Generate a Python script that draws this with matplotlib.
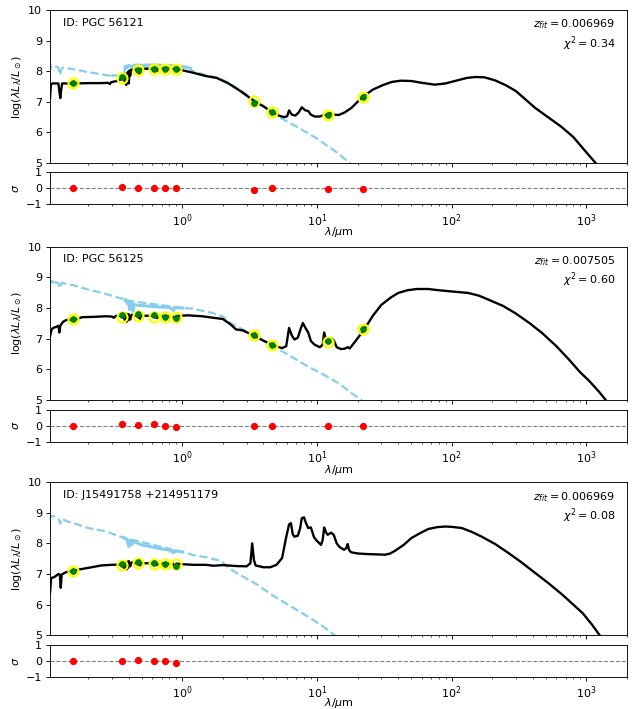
import numpy as np
import matplotlib
matplotlib.use('Agg')
import matplotlib.pyplot as plt

# photometric bands (micron): FUV, u, g, r, i, z, W1, W2, W3, W4
bands = [0.1545, 0.3551, 0.4686, 0.6166, 0.7480, 0.8932, 3.4, 4.6, 12.0, 22.0]

ids = ['ID: PGC 56121', 'ID: PGC 56125', 'ID: J15491758 +214951179']
zfit = ['0.006969', '0.007505', '0.006969']
chi2 = ['0.34', '0.60', '0.08']

# ---------- galaxy 1 ----------
obs1 = [7.60, 7.82, 8.05, 8.08, 8.08, 8.07, 6.95, 6.67, 6.58, 7.17]
err1 = [0.03, 0.06, 0.07, 0.05, 0.04, 0.05, 0.06, 0.03, 0.04, 0.03]
mod1 = [7.60, 7.77, 8.03, 8.08, 8.08, 8.07, 7.03, 6.67, 6.58, 7.17]
res1 = [0.0, 0.05, 0.0, 0.0, 0.0, 0.0, -0.12, 0.0, -0.03, -0.05]

sed1 = [(0.100, 7.10), (0.104, 7.10), (0.1055, 7.55), (0.108, 7.60), (0.120, 7.60),
        (0.122, 7.35), (0.124, 7.12), (0.126, 7.40), (0.128, 7.60), (0.16, 7.60),
        (0.20, 7.61), (0.25, 7.61), (0.28, 7.62), (0.29, 7.58), (0.295, 7.64),
        (0.31, 7.66), (0.33, 7.68), (0.345, 7.72), (0.36, 7.75), (0.37, 7.80),
        (0.375, 7.60), (0.378, 7.88), (0.383, 7.55), (0.386, 7.92), (0.39, 7.70),
        (0.395, 7.98), (0.40, 7.60), (0.405, 8.02), (0.41, 7.85), (0.415, 8.04),
        (0.45, 8.06), (0.486, 7.88), (0.49, 8.07), (0.55, 8.08), (0.60, 8.08),
        (0.656, 8.00), (0.66, 8.09), (0.80, 8.09), (0.90, 8.07), (1.0, 8.03),
        (1.2, 7.95), (1.5, 7.84), (1.8, 7.78), (2.2, 7.60), (2.7, 7.35),
        (3.4, 7.03), (4.0, 6.85), (4.6, 6.67), (5.2, 6.55), (5.7, 6.50),
        (6.0, 6.53), (6.2, 6.72), (6.5, 6.58), (6.9, 6.55), (7.3, 6.65),
        (7.7, 6.82), (8.2, 6.72), (8.6, 6.70), (9.0, 6.58), (9.6, 6.52),
        (10.5, 6.52), (11.3, 6.58), (12.0, 6.57), (12.7, 6.65), (13.3, 6.58),
        (14.5, 6.57), (16, 6.65), (18, 6.80), (20, 7.00), (22, 7.17),
        (26, 7.40), (31, 7.55), (36, 7.65), (42, 7.69), (50, 7.68), (60, 7.62),
        (75, 7.56), (90, 7.60), (110, 7.70), (130, 7.78), (150, 7.81),
        (175, 7.80), (210, 7.70), (250, 7.55), (300, 7.35), (417, 6.80),
        (500, 6.55), (650, 6.19), (800, 5.85), (1000, 5.35), (1200, 4.95),
        (1300, 4.80)]
star1 = [(0.100, 8.02), (0.104, 8.02), (0.106, 8.18), (0.110, 8.20), (0.115, 8.15),
         (0.120, 8.12), (0.122, 7.95), (0.124, 7.88), (0.126, 8.05), (0.13, 8.12),
         (0.16, 8.05), (0.20, 7.97), (0.25, 7.90), (0.29, 7.85), (0.295, 7.78),
         (0.30, 7.86), (0.33, 7.86), (0.36, 7.88), (0.37, 7.95), (0.38, 8.12),
         (1.1, 8.12), (1.2, 8.00), (1.5, 7.87), (1.8, 7.80), (2.2, 7.63),
         (2.7, 7.38), (3.4, 7.07), (4.0, 6.87), (4.6, 6.70), (5.5, 6.45),
         (7.0, 6.20), (10, 5.80), (14, 5.35), (17.5, 5.00), (19, 4.85)]
band1 = [(0.375, 8.10), (0.38, 8.17), (0.39, 8.12), (0.40, 8.19), (0.42, 8.15),
         (0.45, 8.20), (0.50, 8.19), (0.60, 8.20), (0.70, 8.19), (0.80, 8.18),
         (0.90, 8.17), (1.0, 8.15), (1.15, 8.10)]

# ---------- galaxy 2 ----------
obs2 = [7.63, 7.78, 7.80, 7.77, 7.70, 7.68, 7.12, 6.80, 6.92, 7.33]
err2 = [0.03, 0.06, 0.06, 0.05, 0.04, 0.06, 0.03, 0.03, 0.04, 0.03]
mod2 = [7.63, 7.72, 7.75, 7.70, 7.70, 7.71, 7.12, 6.80, 6.90, 7.33]
res2 = [0.0, 0.08, 0.03, 0.08, 0.0, -0.05, -0.02, 0.0, 0.0, 0.0]

sed2 = [(0.100, 7.05), (0.104, 7.07), (0.107, 7.30), (0.110, 7.35), (0.115, 7.38),
        (0.12, 7.42), (0.122, 7.20), (0.124, 7.42), (0.13, 7.55), (0.138, 7.61),
        (0.16, 7.62), (0.18, 7.70), (0.22, 7.71), (0.27, 7.73), (0.30, 7.72),
        (0.31, 7.68), (0.32, 7.74), (0.36, 7.76), (0.375, 7.60), (0.38, 7.82),
        (0.385, 7.55), (0.39, 7.80), (0.395, 7.60), (0.40, 7.79), (0.41, 7.62),
        (0.42, 7.78), (0.45, 7.76), (0.486, 7.65), (0.49, 7.75), (0.60, 7.74),
        (0.656, 7.67), (0.66, 7.75), (0.85, 7.72), (0.89, 7.62), (0.90, 7.74),
        (1.0, 7.75), (1.1, 7.76), (1.4, 7.73), (1.7, 7.68), (2.0, 7.64),
        (2.3, 7.45), (2.5, 7.30), (2.8, 7.27), (3.4, 7.10), (4.0, 6.93),
        (4.8, 6.77), (5.5, 6.69), (5.9, 6.75), (6.2, 7.35), (6.5, 7.10),
        (6.8, 6.97), (7.2, 7.03), (7.6, 7.35), (7.85, 7.51), (8.2, 7.35),
        (8.6, 7.20), (9.0, 6.92), (9.6, 6.80), (10.5, 6.72), (11.0, 6.80),
        (11.3, 7.20), (11.7, 6.90), (12.0, 6.90), (12.7, 7.02), (13.3, 6.95),
        (14, 6.72), (15, 6.66), (16, 6.67), (16.9, 6.72), (17.5, 6.68),
        (19, 6.88), (22.5, 7.31), (26, 7.75), (30, 8.10), (35, 8.33),
        (40, 8.49), (47, 8.58), (55, 8.62), (67, 8.62), (80, 8.58), (100, 8.54),
        (133, 8.49), (160, 8.40), (188, 8.27), (240, 8.07), (297, 7.83),
        (380, 7.50), (470, 7.18), (600, 6.75), (745, 6.31), (900, 5.90),
        (1050, 5.62), (1250, 5.25), (1390, 5.00), (1500, 4.85)]
star2 = [(0.100, 8.78), (0.104, 8.80), (0.106, 8.85), (0.108, 8.88), (0.112, 8.75),
         (0.115, 8.85), (0.12, 8.80), (0.124, 8.65), (0.127, 8.82), (0.14, 8.78),
         (0.156, 8.74), (0.20, 8.60), (0.25, 8.50), (0.30, 8.40), (0.36, 8.30),
         (0.375, 8.25), (1.0, 8.00), (1.2, 7.98), (1.5, 7.88), (1.7, 7.83),
         (2.0, 7.72), (2.3, 7.50), (2.8, 7.30), (3.4, 7.12), (4.8, 6.74),
         (6.5, 6.40), (8.5, 6.10), (12, 5.75), (15, 5.50), (18, 5.22),
         (21.3, 5.00), (23, 4.90)]
band2 = [(0.375, 8.25), (0.38, 8.28), (0.39, 8.15), (0.40, 8.22), (0.405, 7.95),
         (0.41, 8.20), (0.42, 8.15), (0.43, 7.90), (0.435, 8.12), (0.45, 8.10),
         (0.50, 8.08), (0.60, 8.05), (0.70, 8.03), (0.80, 8.02), (0.86, 7.92),
         (0.88, 8.01), (1.0, 8.00)]

# ---------- galaxy 3 ----------
obs3 = [7.10, 7.33, 7.38, 7.35, 7.33, 7.25]
err3 = [0.03, 0.06, 0.07, 0.06, 0.05, 0.07]
mod3 = [7.10, 7.30, 7.37, 7.33, 7.33, 7.33]
res3 = [0.0, 0.03, 0.05, 0.0, 0.0, -0.10]

sed3 = [(0.100, 6.35), (0.104, 6.37), (0.106, 6.86), (0.108, 6.88), (0.112, 6.90),
        (0.116, 6.95), (0.12, 7.00), (0.123, 6.98), (0.125, 6.55), (0.127, 6.98),
        (0.135, 7.05), (0.157, 7.12), (0.20, 7.20), (0.25, 7.28), (0.30, 7.30),
        (0.36, 7.31), (0.375, 7.15), (0.38, 7.38), (0.385, 7.15), (0.39, 7.40),
        (0.395, 7.20), (0.40, 7.42), (0.41, 7.25), (0.42, 7.38), (0.45, 7.36),
        (0.486, 7.28), (0.49, 7.35), (0.60, 7.35), (0.656, 7.30), (0.66, 7.35),
        (0.85, 7.34), (0.89, 7.20), (0.90, 7.34), (1.0, 7.32), (1.2, 7.30),
        (1.5, 7.30), (1.7, 7.27), (2.0, 7.29), (2.5, 7.26), (3.0, 7.25),
        (3.2, 7.35), (3.3, 8.00), (3.4, 7.45), (3.5, 7.28), (4.0, 7.22),
        (4.5, 7.22), (5.0, 7.30), (5.5, 7.52), (5.9, 8.20), (6.2, 8.62),
        (6.4, 8.66), (6.6, 8.30), (6.8, 8.22), (7.2, 8.25), (7.5, 8.50),
        (7.7, 8.82), (8.0, 8.85), (8.3, 8.65), (8.6, 8.50), (9.0, 8.52),
        (9.5, 8.20), (10.0, 8.08), (10.7, 7.95), (11.0, 8.10), (11.3, 8.52),
        (11.7, 8.35), (12.0, 8.28), (12.7, 8.35), (13.3, 8.28), (14.0, 8.00),
        (14.7, 7.88), (15.9, 7.79), (16.5, 7.85), (16.9, 7.98), (17.3, 7.78),
        (17.9, 7.71), (20, 7.67), (23.8, 7.65), (28, 7.64), (32, 7.63),
        (35, 7.67), (38, 7.76), (44, 7.95), (50, 8.17), (58, 8.33), (67, 8.47),
        (78, 8.53), (89, 8.55), (100, 8.54), (119, 8.50), (140, 8.38),
        (167, 8.22), (210, 7.98), (265, 7.68), (330, 7.38), (418, 7.03),
        (530, 6.68), (665, 6.32), (800, 6.00), (940, 5.72), (1100, 5.35),
        (1250, 5.01), (1350, 4.85)]
star3 = [(0.100, 8.82), (0.104, 8.84), (0.106, 8.88), (0.109, 8.90), (0.115, 8.85),
         (0.12, 8.80), (0.124, 8.65), (0.127, 8.80), (0.14, 8.72), (0.156, 8.66),
         (0.20, 8.50), (0.274, 8.39), (0.33, 8.25), (0.37, 8.18), (1.0, 7.72),
         (1.2, 7.62), (1.53, 7.54), (1.92, 7.43), (2.42, 7.08), (3.0, 6.85),
         (3.6, 6.65), (4.8, 6.27), (6.76, 5.88), (9, 5.55), (11, 5.30),
         (13.5, 5.00), (14.5, 4.90)]
band3 = [(0.37, 8.18), (0.38, 8.15), (0.39, 8.10), (0.40, 7.90), (0.405, 8.10),
         (0.41, 8.08), (0.42, 7.95), (0.43, 8.06), (0.44, 8.05), (0.50, 7.95),
         (0.60, 7.88), (0.70, 7.82), (0.80, 7.78), (0.86, 7.70), (0.88, 7.76),
         (0.90, 7.75), (1.0, 7.72)]

panels = [(obs1, err1, mod1, res1, sed1, star1, band1),
          (obs2, err2, mod2, res2, sed2, star2, band2),
          (obs3, err3, mod3, res3, sed3, star3, band3)]

fig = plt.figure(figsize=(641 / 80, 709 / 80), dpi=80)

# axes rectangles [main bottom, resid bottom] in figure fraction
main_bottom = [0.770, 0.436, 0.104]
res_bottom = [0.712, 0.377, 0.045]
left, width = 0.078, 0.900

for i, (obs, err, mod, res, sed, star, band) in enumerate(panels):
    ax = fig.add_axes([left, main_bottom[i], width, 0.216])
    axr = fig.add_axes([left, res_bottom[i], width, 0.045], sharex=ax)
    n = len(obs)
    wl = bands[:n]

    sw, sl = zip(*star)
    ax.plot(sw, sl, color='skyblue', ls='--', lw=2, zorder=2)
    bw, bl = zip(*band)
    ax.plot(bw, bl, color='skyblue', lw=2.8, zorder=2)
    mw, ml = zip(*sed)
    ax.plot(mw, ml, color='black', lw=2.1, zorder=3)

    ax.plot(wl, mod, 'o', ms=9, mfc='none', mec='yellow', mew=2, zorder=4)
    ax.errorbar(wl, obs, yerr=err, fmt='o', color='green', ms=5,
                elinewidth=1.4, capsize=0, zorder=5)

    ax.set_xscale('log')
    ax.set_xlim(0.104, 2000)
    ax.set_ylim(5, 10)
    ax.set_ylabel(r'$\log(\lambda L_\lambda/L_\odot)$')
    ax.tick_params(labelbottom=False)
    ax.text(0.022, 0.95, ids[i], transform=ax.transAxes, fontsize=10, va='top')
    ax.text(0.98, 0.95, r'$z_{fit} = %s$' % zfit[i] + '\n' + r'$\chi^2 = %s$' % chi2[i],
            transform=ax.transAxes, fontsize=10, va='top', ha='right')

    axr.axhline(0, color='gray', ls='--', lw=1)
    axr.plot(wl, res, 'o', color='red', ms=5.5)
    axr.set_ylim(-1, 1)
    axr.set_yticks([-1, 0, 1])
    axr.set_ylabel(r'$\sigma$')
    axr.set_xlabel(r'$\lambda/\mu$m', labelpad=-3 if i < 2 else -5)

plt.savefig('out.png', dpi=80)
